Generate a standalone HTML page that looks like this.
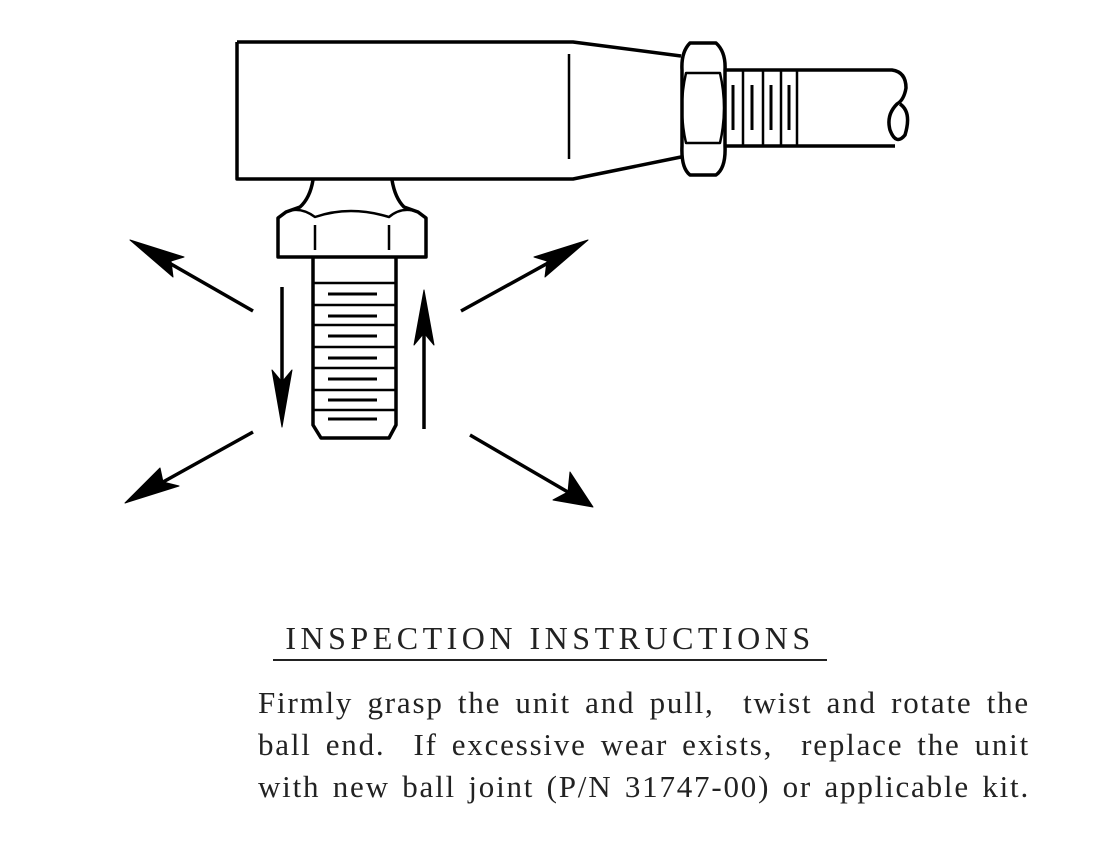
<!DOCTYPE html>
<html><head><style>
html,body{margin:0;padding:0;background:#fff;}
body{width:1093px;height:859px;position:relative;overflow:hidden;}
.t{position:absolute;font-family:"Liberation Serif",serif;color:#222;white-space:nowrap;}
</style></head><body>
<svg width="1093" height="859" style="position:absolute;left:0;top:0" fill="none" stroke="#000" stroke-width="3.5" stroke-linejoin="round">
<!-- body -->
<path d="M237,42 L573,42 L681,56 M237,42 L237,179 L573,179 L681,157"/>
<line x1="569" y1="54" x2="569" y2="159" stroke-width="2.5"/>
<!-- nut -->
<path d="M690,43 L716,43 Q726,52 725,70 L725,146 Q726,168 716,175 L690,175 Q681,168 682,146 L682,70 Q681,52 690,43z"/>
<path d="M686,73 L720,73 Q728,108 720,143 L686,143 Q678,108 686,73z" stroke-width="2.5"/>
<!-- thread / rod -->
<path d="M725,70 L892,70 Q906,72 906,88 Q904,100 897,104 Q886,115 890,130 Q896,146 905,135 Q912,112 900,104 M725,146 L895,146" />
<line x1="743" y1="70" x2="743" y2="146" stroke-width="2.5"/>
<line x1="763" y1="70" x2="763" y2="146" stroke-width="2.5"/>
<line x1="781" y1="70" x2="781" y2="146" stroke-width="2.5"/>
<line x1="797" y1="70" x2="797" y2="146" stroke-width="2.5"/>
<g stroke-width="3"><line x1="733" y1="85" x2="733" y2="130"/><line x1="752" y1="85" x2="752" y2="130"/><line x1="771" y1="85" x2="771" y2="130"/><line x1="789" y1="85" x2="789" y2="130"/></g>
<!-- bolt -->
<path d="M313,180 Q310,198 300,207 L286,212 L278,218 L278,257 L426,257 L426,218 L418,212 L404,207 Q395,198 392,180"/>
<path d="M286,212 Q300,206 315,217 Q350,205 389,217 Q402,206 418,212" stroke-width="2.5"/>
<line x1="315" y1="225" x2="315" y2="250" stroke-width="2.5"/>
<line x1="389" y1="225" x2="389" y2="250" stroke-width="2.5"/>
<path d="M313,257 L313,425 L321,438 L389,438 L396,425 L396,257"/>
<g stroke-width="2.5"><line x1="313" y1="283" x2="396" y2="283"/><line x1="313" y1="305" x2="396" y2="305"/><line x1="313" y1="325" x2="396" y2="325"/><line x1="313" y1="347" x2="396" y2="347"/><line x1="313" y1="368" x2="396" y2="368"/><line x1="313" y1="390" x2="396" y2="390"/><line x1="313" y1="410" x2="396" y2="410"/></g>
<g stroke-width="3"><line x1="328" y1="294" x2="377" y2="294"/><line x1="328" y1="316" x2="377" y2="316"/><line x1="328" y1="336" x2="377" y2="336"/><line x1="328" y1="358" x2="377" y2="358"/><line x1="328" y1="379" x2="377" y2="379"/><line x1="328" y1="400" x2="377" y2="400"/><line x1="328" y1="419" x2="377" y2="419"/></g>
<!-- arrows -->
<g stroke-width="3.5">
<line x1="282" y1="287" x2="282" y2="400"/><path d="M272,370 L282,427 L292,370 L282,382z" fill="#000" stroke-width="1"/>
<line x1="424" y1="429" x2="424" y2="315"/><path d="M414,345 L424,290 L434,345 L424,333z" fill="#000" stroke-width="1"/>
<line x1="253" y1="311" x2="150" y2="252"/><path d="M130,240 L184,257 L171,261 L173,277z" fill="#000" stroke-width="1"/>
<line x1="461" y1="311" x2="568" y2="252"/><path d="M588,240 L534,257 L547,261 L545,277z" fill="#000" stroke-width="1"/>
<line x1="253" y1="432" x2="145" y2="492"/><path d="M125,503 L160,468 L163,482 L179,486z" fill="#000" stroke-width="1"/>
<line x1="470" y1="435" x2="573" y2="495"/><path d="M593,507 L553,500 L568,492 L570,472z" fill="#000" stroke-width="1"/>
</g>
<line x1="273" y1="660" x2="827" y2="660" stroke="#222" stroke-width="2"/>
</svg>
<div class="t" style="left:273px;top:620px;font-size:32px;width:554px;text-align:center;letter-spacing:4.5px;">INSPECTION INSTRUCTIONS</div>
<div class="t" style="left:258px;top:682px;font-size:31px;width:772px;line-height:42px;text-align:justify;text-align-last:justify;letter-spacing:1.8px;">Firmly grasp the unit and pull,&nbsp; twist and rotate the</div>
<div class="t" style="left:258px;top:724px;font-size:31px;width:772px;line-height:42px;text-align:justify;text-align-last:justify;letter-spacing:1.8px;">ball end.&nbsp; If excessive wear exists,&nbsp; replace the unit</div>
<div class="t" style="left:258px;top:766px;font-size:31px;width:772px;line-height:42px;text-align:justify;text-align-last:justify;letter-spacing:1.8px;">with new ball joint (P/N 31747-00) or applicable kit.</div>
</body></html>
